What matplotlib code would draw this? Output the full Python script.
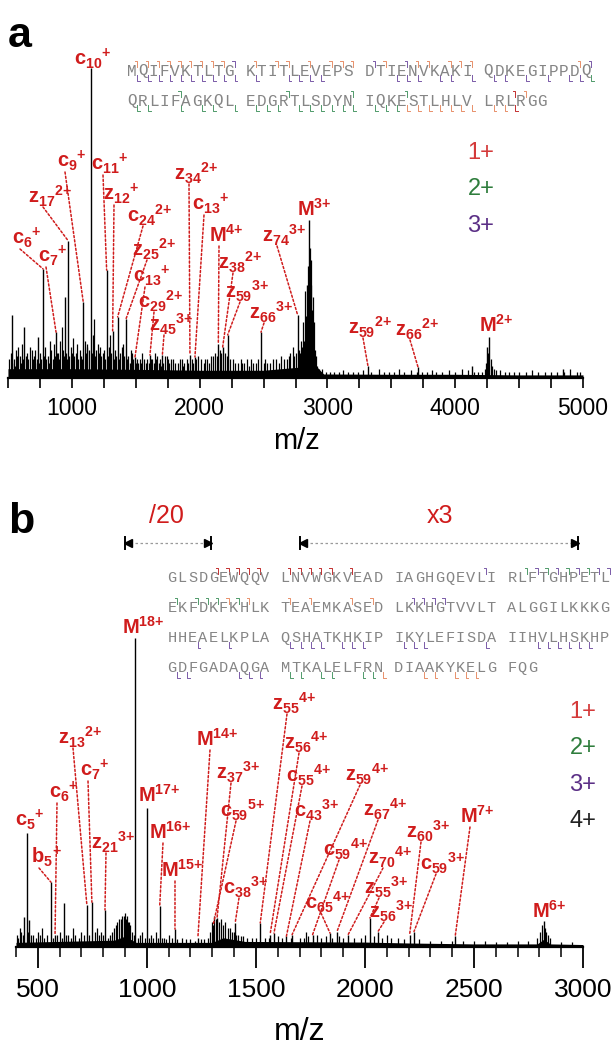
import numpy as np
import matplotlib
matplotlib.use("Agg")
import matplotlib.pyplot as plt
from matplotlib.ticker import MultipleLocator
from matplotlib.patches import ConnectionPatch

plt.rcParams['font.family'] = ['Liberation Sans', 'DejaVu Sans']
plt.rcParams['mathtext.fontset'] = 'custom'
plt.rcParams['mathtext.rm'] = 'Liberation Sans:bold'
plt.rcParams['mathtext.bf'] = 'Liberation Sans:bold'
plt.rcParams['mathtext.it'] = 'Liberation Sans:bold'
plt.rcParams['mathtext.sf'] = 'Liberation Sans:bold'
plt.rcParams['mathtext.default'] = 'bf'

RED = '#d01c1c'
C1 = '#d43a3a'
C2 = '#2e7d3c'
C3 = '#5b2f86'
ORANGE = '#e8906a'
PURPLE = '#7a5aa8'
GREEN = '#4f9a6a'
MRED = '#c43030'

# ---------------- panel a data (ubiquitin) ----------------
seq_a = "MQIFVKTLTGKTITLEVEPSDTIENVKAKIQDKEGIPPDQQRLIFAGKQLEDGRTLSDYNIQKESTLHLVLRLRGG"

a_mz = [534, 628, 732, 774, 876, 946, 972, 1089, 1147, 1272, 1319, 1358, 1423, 1494,
        1611, 1708, 1924, 1963, 2146, 2180, 2219, 2480, 2767, 2838, 2858, 3317, 3709,
        4131, 4250, 4267, 4840]
a_int = [20.3, 16.5, 13.2, 35.2, 14.8, 26.1, 44.2, 24.5, 100, 34.8, 15.2, 19.7, 19.0, 6.8,
         7.4, 7.4, 7.4, 6.8, 11, 10, 13.9, 14.8, 20.3, 30, 51, 3.9, 3.5,
         3.9, 10, 13.2, 2.9]

# smaller peaks / grass
a_small_mz = [510, 520, 530, 545, 552, 560, 570, 581, 590, 600, 610, 620, 640, 650, 660, 670,
              685, 693, 700, 708, 715, 725, 740, 750, 760, 782, 790, 800, 810, 820, 829, 840,
              850, 860, 868, 885, 895, 903, 910, 920, 930, 938, 955, 962, 980, 990, 1000,
              1010, 1020, 1030, 1037, 1048, 1060, 1070, 1080, 1100, 1110, 1120, 1121, 1135,
              1158, 1165, 1173, 1182, 1190, 1205, 1213, 1220, 1230, 1240, 1250, 1260, 1282,
              1290, 1298, 1308, 1328, 1335, 1345, 1368, 1375, 1390, 1400, 1410, 1432, 1440,
              1452, 1460, 1468, 1480, 1502, 1510, 1520, 1533, 1542, 1550, 1565, 1580, 1590,
              1600, 1620, 1630, 1640, 1650, 1660, 1666, 1680, 1690, 1700, 1715, 1730, 1744,
              1752, 1760, 1775, 1790, 1810, 1830, 1845, 1860, 1870, 1880, 1898, 1910, 1940,
              1950, 1975, 1990, 2010, 2030, 2045, 2060, 2075, 2090, 2104, 2120, 2135, 2160,
              2170, 2200, 2210, 2240, 2261, 2280, 2300, 2320, 2335, 2350, 2368, 2385, 2400,
              2420, 2440, 2460, 2500, 2510, 2530, 2550, 2575, 2600, 2620, 2640, 2660, 2680,
              2700, 2710, 2730, 2740, 2755, 2775, 2785, 2790, 2800, 2810, 2818, 2825, 2832,
              2845, 2852, 2865, 2870, 2875, 2880, 2885, 2890, 2897, 2905, 2912, 2920, 2935,
              2960, 2990, 3020, 3050, 3090, 3120, 3160, 3200, 3240, 3280, 3340, 3400, 3440,
              3480, 3520, 3560, 3600, 3650, 3700, 3740, 3780, 3820, 3850, 3900, 3950, 4000,
              4050, 4100, 4150, 4180, 4210, 4230, 4240, 4260, 4280, 4290, 4300, 4320, 4350,
              4390, 4420, 4460, 4500, 4550, 4600, 4650, 4700, 4750, 4800, 4850, 4900, 4950,
              4980]
a_small_int = [6, 8, 5, 6, 4, 9, 7, 10, 7, 5, 11, 6, 7, 8, 6, 10,
               9, 6, 7, 5, 9, 6, 5, 8, 6, 7, 10, 6, 7, 5, 12, 9,
               6, 11, 7, 8, 8, 6, 12, 16.5, 9, 7, 8, 6, 7, 10, 8,
               13, 7, 8, 11, 6, 9, 7, 6, 12, 8, 10, 11, 9,
               8, 14, 19, 7, 9, 11, 8, 10, 7, 8, 9, 6, 7,
               10, 14, 8, 6, 9, 7, 6, 8, 10, 11, 7, 6, 7,
               5, 9, 8, 6, 5, 6, 5, 6, 5, 8, 6, 5, 6,
               5, 6, 6, 5, 8, 6, 7, 5, 6, 4, 5, 7, 7,
               6, 5, 6, 6, 5, 5, 6, 6, 4, 5, 6, 5, 6,
               5, 6, 7, 6, 5, 6, 6, 5, 7, 7, 8, 7, 9,
               8, 8, 7, 6, 6, 5, 5, 6, 5, 5, 6, 4, 6,
               5, 5, 6, 5, 6, 5, 5, 6, 6, 5, 7, 6, 6,
               7, 8, 10, 7, 8, 9, 8, 12, 10, 18, 12, 28, 20,
               36, 25, 42, 30, 38, 22, 26, 14, 18, 9, 7, 4, 3,
               3, 2, 2, 2, 2, 2.5, 2, 2, 2, 2.5, 2, 3, 2,
               2, 2, 3, 2, 2.5, 2, 2, 2, 2.5, 2, 2, 2.5, 2,
               3, 2.5, 2, 2, 2, 3, 5, 8, 6, 4, 3, 2.5, 2.5,
               2, 2, 2, 2, 2, 2.5, 2, 2, 2, 2, 2, 3, 2,
               2]

a_env_mz = [500, 1000, 1500, 2000, 2500, 2780, 2850, 2930, 2970, 3500, 4000, 4500, 5000]
a_env_h = [3.0, 3.0, 2.8, 2.5, 2.5, 3.5, 7, 3, 1.3, 1.2, 1.2, 1.0, 1.0]

# (letter, subscript, charge, label x px, label y px, peak m/z or None)
a_labels = [
    ('c', '10', '+', 93, 59, None),
    ('c', '9', '+', 72, 161, 1089),
    ('c', '11', '+', 110, 164, 1272),
    ('z', '17', '2+', 50, 196, 972),
    ('z', '12', '+', 121, 194, 1319),
    ('z', '34', '2+', 196, 173, 1924),
    ('c', '24', '2+', 150, 215, 1358),
    ('c', '13', '+', 211, 204, 1963),
    ('M', '', '3+', 314, 209, None),
    ('c', '6', '+', 27, 238, 774),
    ('c', '7', '+', 53, 256, 876),
    ('M', '', '4+', 226, 235, 2146),
    ('z', '74', '3+', 284, 235, 2767),
    ('z', '25', '2+', 154, 249, 1423),
    ('z', '38', '2+', 240, 262, 2180),
    ('c', '13', '+', 152, 276, 1494),
    ('z', '59', '3+', 247, 291, 2219),
    ('c', '29', '2+', 161, 301, 1611),
    ('z', '66', '3+', 271, 312, 2480),
    ('z', '45', '3+', 171, 324, 1708),
    ('z', '59', '2+', 370, 327, 3317),
    ('z', '66', '2+', 417, 329, 3709),
    ('M', '', '2+', 496, 325, None),
]

# cleavage marks (after residue n, 1-based)
a_c_marks = {ORANGE: [1, 2, 3, 4, 5, 6, 7, 8, 9, 11, 13, 14, 16, 18, 19, 20, 22, 25, 26, 28, 29, 30, 39, 74],
             PURPLE: [10, 21, 24, 40], GREEN: [45, 54, 60, 64], MRED: [73]}
a_z_marks = {PURPLE: [1, 2, 3, 4, 5, 6, 7, 8, 9, 10, 11, 14, 15, 16, 17, 23, 24, 25, 27, 28, 30, 31,
                      32, 34, 36, 38, 39],
             GREEN: [40, 41, 42, 45, 47, 48, 50, 51, 52, 53, 55, 56, 57, 58, 59, 60, 61, 62, 63],
             ORANGE: [64, 65, 66, 67, 68, 69, 70, 71, 72], MRED: [73]}

# ---------------- panel b data (myoglobin) ----------------
seq_b = ("GLSDGEWQQVLNVWGKVEADIAGHGQEVLIRLFTGHPETLEKFDKFKHLKTEAEMKASEDLKKHGTVVLTALGGILKKKG"
         "HHEAELKPLAQSHATKHKIPIKYLEFISDAIIHVLHSKHPGDFGADAQGAMTKALELFRNDIAAKYKELGFQG")

b_mz = [437, 449, 461, 560, 579, 620, 725, 748, 808, 946, 1000, 1059, 1129, 1234, 1304,
        1322, 1405, 1520, 1565, 1583, 1640, 1666, 1760, 1840, 1872, 1923, 2023, 2060,
        2205, 2225, 2414, 2819]
b_int = [9.7, 36.9, 8.7, 21, 3.9, 14.2, 13.6, 14.5, 12, 100, 45, 13.3, 5.8, 3, 7.1,
         9.4, 7.8, 7.8, 4, 4.5, 3.5, 4, 4, 4.5, 5, 4, 9.4, 5,
         4, 5, 3.5, 8.4]

b_small_mz = [405, 410, 418, 425, 432, 455, 470, 480, 490, 500, 510, 520, 530, 540, 570,
              590, 600, 610, 630, 640, 650, 660, 670, 690, 700, 710, 735, 760, 770, 780,
              790, 800, 820, 830, 840, 850, 857, 865, 872, 880, 887, 895, 900, 905, 910,
              915, 920, 925, 930, 940, 960, 970, 980, 990, 1010, 1020, 1030, 1040, 1050,
              1070, 1080, 1090, 1100, 1115, 1140, 1160, 1180, 1200, 1220, 1250, 1260, 1280,
              1290, 1300, 1310, 1315, 1330, 1340, 1350, 1360, 1370, 1380, 1390, 1400, 1410,
              1420, 1430, 1440, 1460, 1480, 1500, 1540, 1560, 1600, 1620, 1660, 1700, 1720,
              1730, 1740, 1780, 1800, 1820, 1850, 1880, 1900, 1950, 1980, 2000, 2040, 2080,
              2100, 2120, 2150, 2180, 2250, 2300, 2350, 2400, 2450, 2500, 2550, 2600, 2650,
              2700, 2750, 2790, 2805, 2812, 2825, 2830, 2840, 2850, 2900, 2950]
b_small_int = [4, 3, 6, 5, 4, 5, 4, 4, 3, 5, 4, 6, 3, 4, 3,
               4, 5, 3, 4, 4, 3, 6, 4, 3, 5, 4, 4, 5, 6, 4,
               5, 4, 3, 4, 5, 6, 7, 8, 9, 9, 10, 10, 11, 9, 10,
               8, 8, 7, 5, 4, 3, 4, 5, 3, 3, 4, 3, 5, 3,
               3, 3, 2.5, 4, 3, 2.5, 3, 2.5, 2.5, 2, 2.5, 2.5, 3,
               5, 8, 10, 9, 8, 9, 7, 8, 6, 6, 5, 5, 4,
               4, 3.5, 3.5, 3, 3, 3, 3, 3, 3.5, 3, 3, 3, 3,
               5, 3.5, 4, 3, 3.5, 3, 3.5, 3, 3, 3, 4, 3.5, 3,
               4, 3, 3, 2.5, 2.5, 2, 2, 2, 2, 2, 1.8, 1.5, 1.5,
               1.8, 2, 3, 5, 7, 6, 5, 4, 3, 1.5, 1.5]

b_env_mz = [400, 850, 900, 950, 1300, 1350, 1450, 2000, 2200, 2500, 2790, 2820, 2850, 3000]
b_env_h = [1.5, 2.2, 3.5, 1.5, 1.5, 3, 1.8, 1.6, 1.3, 1.0, 1.0, 2.5, 1.0, 0.8]

b_labels = [
    ('M', '', '18+', 143, 627, None),
    ('z', '55', '4+', 294, 703, 1520),
    ('z', '13', '2+', 80, 737, 725),
    ('M', '', '14+', 217, 739, 1234),
    ('z', '56', '4+', 306, 742, 1565),
    ('c', '7', '+', 95, 770, 748),
    ('z', '37', '3+', 238, 772, 1322),
    ('c', '55', '4+', 309, 775, 1583),
    ('z', '59', '4+', 367, 774, 1666),
    ('c', '6', '+', 64, 792, 579),
    ('M', '', '17+', 159, 795, None),
    ('c', '59', '5+', 243, 810, 1304),
    ('c', '43', '3+', 317, 810, 1640),
    ('z', '67', '4+', 385, 809, 1872),
    ('c', '5', '+', 30, 820, None),
    ('M', '', '16+', 170, 832, 1059),
    ('z', '60', '3+', 428, 831, 2205),
    ('M', '', '7+', 477, 816, 2414),
    ('z', '21', '3+', 113, 842, 808),
    ('c', '59', '4+', 346, 849, 1760),
    ('b', '5', '+', 46, 857, 560),
    ('z', '70', '4+', 390, 857, 1923),
    ('c', '59', '3+', 443, 863, 2225),
    ('M', '', '15+', 182, 870, 1129),
    ('c', '38', '3+', 246, 887, 1405),
    ('z', '55', '3+', 386, 887, 2023),
    ('c', '65', '4+', 328, 902, 1840),
    ('z', '56', '3+', 391, 911, 2060),
    ('M', '', '6+', 549, 911, None),
]

b_c_marks = {MRED: [5, 6, 7, 8, 9, 11, 12, 13, 14, 15, 17],
             PURPLE: [29, 33, 35, 37, 39, 40, 62, 63, 64, 65],
             GREEN: [32, 34, 36, 38, 41, 43, 44, 45, 47],
             ORANGE: [46, 48, 51, 53, 57, 59]}
b_z_marks = {PURPLE: [83, 86, 91, 92, 93, 94, 96, 97, 98, 101, 102, 103, 109, 113, 114, 115,
                      116, 117, 118, 121, 122, 127, 128, 129],
             GREEN: [131, 132, 134, 135, 138, 139],
             ORANGE: [140, 143, 144, 146, 147, 148]}

# ---------------- figure ----------------
fig = plt.figure(figsize=(6.14, 10.56), dpi=100)
W, H = 614, 1056

axa = fig.add_axes([8 / W, (H - 378) / H, 575 / W, 370 / H])
axb = fig.add_axes([16 / W, (H - 947) / H, 567 / W, 387 / H])
ov = fig.add_axes([0, 0, 1, 1], zorder=5)
ov.set_xlim(0, W)
ov.set_ylim(H, 0)
ov.axis('off')
ov.patch.set_alpha(0)


def spectrum(ax, env_mz, env_h, small_mz, small_int, mz, inten):
    ax.fill_between(env_mz, 0, env_h, color='black', lw=0)
    ax.vlines(small_mz, 0, small_int, color='black', lw=0.9)
    ax.vlines(mz, 0, inten, color='black', lw=1.0)
    for s in ['left', 'right', 'top']:
        ax.spines[s].set_visible(False)
    ax.spines['bottom'].set_linewidth(1.6)
    ax.set_yticks([])
    ax.set_facecolor('none')


spectrum(axa, a_env_mz, a_env_h, a_small_mz, a_small_int, a_mz, a_int)
axa.set_xlim(500, 5000)
axa.set_ylim(0, 370 / 3.1)
axa.xaxis.set_major_locator(MultipleLocator(1000))
axa.xaxis.set_minor_locator(MultipleLocator(250))
axa.tick_params(axis='x', which='both', length=7, width=1.2, direction='out', pad=7,
                labelsize=16.5)

spectrum(axb, b_env_mz, b_env_h, b_small_mz, b_small_int, b_mz, b_int)
axb.set_xlim(400, 3000)
axb.set_ylim(0, 387 / 3.09)
axb.xaxis.set_major_locator(MultipleLocator(500))
axb.xaxis.set_minor_locator(MultipleLocator(100))
axb.tick_params(axis='x', which='major', length=15, width=1.3, direction='out', pad=7,
                labelsize=19)
axb.tick_params(axis='x', which='minor', length=7, width=1.1, direction='out')

ov.text(296, 441, 'm/z', fontsize=21, ha='center', va='center')
ov.text(300, 1032, 'm/z', fontsize=23, ha='center', va='center')

ov.text(20, 36, 'a', fontsize=31, fontweight='bold', ha='center', va='center')
ov.text(21, 522, 'b', fontsize=31, fontweight='bold', ha='center', va='center')


def ion_text(letter, sub, charge):
    ch = charge.replace('+', '{+}')
    if sub:
        return r'$%s_{%s}{}^{%s}$' % (letter, sub, ch)
    return r'$%s^{%s}$' % (letter, ch)


def put_labels(ax, labels, mz, inten):
    peaks = dict(zip(mz, inten))
    for letter, sub, charge, lx, ly, target in labels:
        ov.text(lx, ly, ion_text(letter, sub, charge), color=RED, fontsize=14.5,
                ha='center', va='center')
        if target is None:
            continue
        con = ConnectionPatch(xyA=(lx - 7, ly + 11), coordsA=ov.transData,
                              xyB=(target, peaks[target]), coordsB=ax.transData,
                              color=RED, lw=1.1, linestyle=(0, (1.4, 1.4)))
        fig.add_artist(con)


put_labels(axa, a_labels, a_mz, a_int)
put_labels(axb, b_labels, b_mz, b_int)


def draw_seq(seq, x0, y0, dx, dy, size, c_marks, z_marks):
    def pos(i):
        row, k = divmod(i, 40)
        return x0 + (k + k // 10) * dx, y0 + row * dy
    for i, ch in enumerate(seq):
        x, y = pos(i)
        ov.text(x, y, ch, family=['Liberation Mono', 'DejaVu Sans Mono'], fontsize=size,
                color='#858585', ha='center', va='center')
    for color, idx in c_marks.items():
        for n in idx:
            x, y = pos(n - 1)
            x += dx / 2
            ov.plot([x - 2.5, x, x], [y - 10, y - 10, y - 4], color=color, lw=0.7)
    for color, idx in z_marks.items():
        for n in idx:
            x, y = pos(n - 1)
            x += dx / 2
            ov.plot([x, x, x + 2.5], [y + 4, y + 10, y + 10], color=color, lw=0.7)


draw_seq(seq_a, 132, 71, 10.8, 30, 11.5, a_c_marks, a_z_marks)
draw_seq(seq_b, 172, 578, 10.3, 30, 11, b_c_marks, b_z_marks)

# charge state legends
for txt, col, y in [('1+', C1, 153), ('2+', C2, 189), ('3+', C3, 226)]:
    ov.text(481, y, txt, color=col, fontsize=17, ha='center', va='center')
for txt, col, y in [('1+', C1, 712), ('2+', C2, 748), ('3+', C3, 785), ('4+', '#222222', 821)]:
    ov.text(583, y, txt, color=col, fontsize=17, ha='center', va='center')

# scaled regions in panel b
for x1, x2, txt, tx in [(124.5, 211.4, '/20', 166), (299.5, 577.5, 'x3', 440)]:
    ov.plot([x1, x2], [543, 543], color='#9a9a9a', lw=0.9, ls=(0, (2, 2)))
    ov.plot([x1, x1], [537, 549], color='black', lw=1.4)
    ov.plot([x2, x2], [537, 549], color='black', lw=1.4)
    ov.plot(x1 + 3, 543, marker='<', ms=6, color='black')
    ov.plot(x2 - 3, 543, marker='>', ms=6, color='black')
    ov.text(tx, 516, txt, color=RED, fontsize=18, ha='center', va='center')

fig.savefig('out.png', dpi=100)
